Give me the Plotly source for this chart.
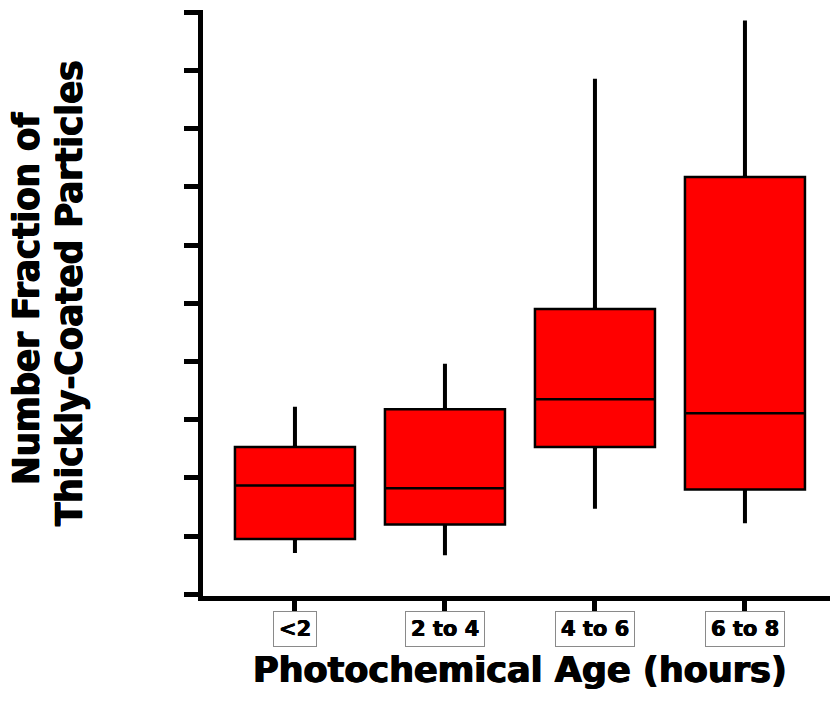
import plotly.graph_objects as go

categories = ["<2", "2 to 4", "4 to 6", "6 to 8"]
lower_whisker = [0.71, 0.67, 1.47, 1.22]
q1_values = [0.95, 1.20, 2.53, 1.80]
medians = [1.87, 1.82, 3.35, 3.11]
q3_values = [2.53, 3.18, 4.90, 7.17]
upper_whisker = [3.22, 3.96, 8.86, 9.86]
y_ticks = list(range(0, 11))
y_title_lines = ["Number Fraction of", "Thickly-Coated Particles"]
x_title = "Photochemical Age (hours)"

FONT = "DejaVu Sans"
FONT_COND = "DejaVu Sans Condensed"
HEAVY = "0.7px 0 0 #000, -0.7px 0 0 #000"

W, H = 830, 703
L, R, T, B = 203, 0, 10, 107
PW, PH = W - L - R, H - T - B


def px_to_paper_x(px):
    return (px - L) / PW


def px_to_paper_y(py):
    return (H - B - py) / PH


fig = go.Figure()
# whiskers (thick), box made negligible
fig.add_trace(go.Box(
    x=categories, q1=q1_values, median=medians, q3=q3_values,
    lowerfence=lower_whisker, upperfence=upper_whisker,
    width=0.001, whiskerwidth=0, line=dict(color="black", width=4),
    fillcolor="black", boxpoints=False, hoverinfo="skip", showlegend=False))
# filled boxes
fig.add_trace(go.Box(
    x=categories, q1=q1_values, median=medians, q3=q3_values,
    lowerfence=q1_values, upperfence=q3_values,
    width=0.8, whiskerwidth=0, line=dict(color="black", width=2.5),
    fillcolor="#FF0000", boxpoints=False, showlegend=False))

for c in categories:
    fig.add_annotation(x=c, xref="x", y=0, yref="paper", yanchor="top",
                       yshift=-15, text=c, showarrow=False,
                       font=dict(family=FONT, size=21, color="black",
                                 weight="bold", shadow="0.4px 0 0 #000, -0.4px 0 0 #000"),
                       bordercolor="#8a8a8a", borderwidth=1, borderpad=5,
                       bgcolor="white")

# y title (two rotated lines)
for text, cx, cy in zip(y_title_lines, [26, 69], [299, 293]):
    fig.add_annotation(x=px_to_paper_x(cx), xref="paper", y=px_to_paper_y(cy),
                       yref="paper", xanchor="center", yanchor="middle",
                       text=text, textangle=-90, showarrow=False,
                       font=dict(family=FONT_COND, size=38, color="black",
                                 weight="bold", shadow=HEAVY))

# x title
fig.add_annotation(x=px_to_paper_x(520), xref="paper", y=px_to_paper_y(670),
                   yref="paper", xanchor="center", yanchor="middle",
                   text=x_title, showarrow=False,
                   font=dict(family=FONT, size=35, color="black",
                             weight="bold", shadow=HEAVY))

fig.update_layout(
    width=W, height=H,
    margin=dict(l=L, r=R, t=T, b=B),
    plot_bgcolor="white", paper_bgcolor="white",
    boxmode="overlay",
    xaxis=dict(type="category", range=[-0.613, 3.567], showgrid=False,
               zeroline=False, showline=True, linecolor="black", linewidth=5,
               ticks="outside", ticklen=12, tickwidth=5, tickcolor="black",
               showticklabels=False),
    yaxis=dict(range=[-0.03, 10.04], showgrid=False, zeroline=False,
               showline=True, linecolor="black", linewidth=5,
               ticks="outside", ticklen=14, tickwidth=5, tickcolor="black",
               tickvals=y_ticks, showticklabels=False),
)

fig.write_html("out.html")
